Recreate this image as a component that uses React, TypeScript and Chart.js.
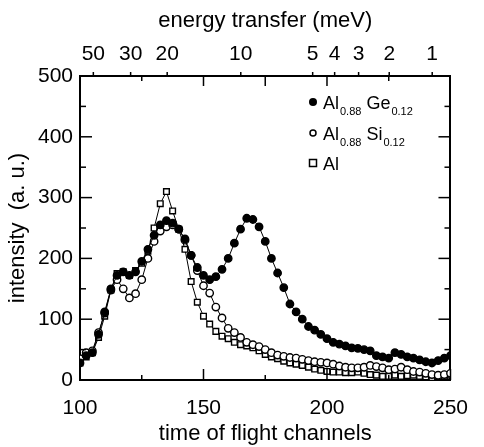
import React, { useEffect, useRef } from 'react';
import { Chart, registerables } from 'chart.js';

Chart.register(...registerables);

// time-of-flight channels of the measured points
const channels = [
  100, 102.5, 105, 107.5, 110, 112.5, 115, 117.5, 120, 122.5,
  125, 127.5, 130, 132.5, 135, 137.5, 140, 142.5, 145, 147.5,
  150, 152.5, 155, 157.5, 160, 162.5, 165, 167.5, 170, 172.5,
  175, 177.5, 180, 182.5, 185, 187.5, 190, 192.5, 195, 197.5,
  200, 202.5, 205, 207.5, 210, 212.5, 215, 217.5, 220, 222.5,
  225, 227.5, 230, 232.5, 235, 237.5, 240, 242.5, 245, 247.5, 250,
];

// Al0.88Ge0.12 (filled circles)
const geValues = [
  28, 40, 45, 75, 112, 150, 172, 178, 172, 178,
  195, 215, 238, 255, 262, 258, 248, 232, 205, 185,
  172, 165, 170, 182, 200, 225, 248, 266, 264, 252,
  228, 200, 176, 152, 125, 112, 100, 88, 82, 75,
  68, 62, 59, 56, 53, 52, 50, 48, 40, 38,
  36, 45, 42, 38, 36, 33, 30, 28, 32, 36, 40,
];

// Al0.88Si0.12 (open circles)
const siValues = [
  35, 45, 48, 78, 110, 148, 165, 150, 135, 142,
  165, 200, 228, 245, 252, 255, 248, 230, 205, 180,
  155, 143, 120, 102, 85, 78, 70, 62, 58, 55,
  50, 45, 41, 39, 37, 36, 34, 32, 30, 29,
  28, 26, 23, 21, 20, 20, 21, 24, 22, 20,
  17, 18, 21, 17, 14, 13, 11, 9, 8, 9, 11,
];

// Al (open squares)
const alValues = [
  28, 38, 45, 70, 105, 148, 175, 178, 172, 180,
  192, 212, 250, 290, 310, 278, 248, 215, 162, 128,
  105, 92, 80, 72, 68, 62, 58, 56, 53, 48,
  42, 38, 35, 31, 28, 26, 24, 21, 18, 16,
  14, 13, 13, 12, 12, 13, 11, 9, 8, 6,
  6, 8, 6, 7, 8, 6, 5, 4, 5, 6, 8,
];

const xTicks = [100, 150, 200, 250];
const xMinorTicks = [125, 175, 225];
const yTicks = [0, 100, 200, 300, 400, 500];
const yMinorTicks = [50, 150, 250, 350, 450];
const topMajorTicks = [150, 175, 200];
const topMinorTicks = [125, 225];

// energy transfer labels (meV) and the TOF channel where each sits
const energyLabels = ['50', '30', '20', '10', '5', '4', '3', '2', '1'];
const energyChannels = [105.4, 120.5, 135.3, 165.1, 194.2, 203.1, 212.8, 225.2, 242.6];

// legend: [main, subscript, main, subscript]
const legendParts = [
  ['Al', '0.88', 'Ge', '0.12'],
  ['Al', '0.88', 'Si', '0.12'],
  ['Al'],
];
const legendStyles = ['circleFilled', 'circleOpen', 'rectOpen'];

const FONT = '"Liberation Sans", Arial, Helvetica, sans-serif';

const frameTicks = {
  id: 'frameTicks',
  afterDraw(chart: any) {
    const { ctx, chartArea } = chart;
    const { left, right, top, bottom } = chartArea;
    const xs = chart.scales.x;
    const ys = chart.scales.y;
    ctx.save();
    ctx.strokeStyle = '#000';
    ctx.lineWidth = 1.5;
    const seg = (x1: number, y1: number, x2: number, y2: number) => {
      ctx.beginPath();
      ctx.moveTo(x1, y1);
      ctx.lineTo(x2, y2);
      ctx.stroke();
    };
    xTicks.forEach((v) => { const p = xs.getPixelForValue(v); seg(p, bottom, p, bottom - 11); });
    xMinorTicks.forEach((v) => { const p = xs.getPixelForValue(v); seg(p, bottom, p, bottom - 5); });
    topMajorTicks.forEach((v) => { const p = xs.getPixelForValue(v); seg(p, top, p, top + 10); });
    topMinorTicks.forEach((v) => { const p = xs.getPixelForValue(v); seg(p, top, p, top + 5); });
    energyChannels.forEach((v) => { const p = xs.getPixelForValue(v); seg(p, top, p, top - 4); });
    yTicks.forEach((v) => {
      const p = ys.getPixelForValue(v);
      seg(left, p, left + 12, p);
      seg(right, p, right - 12, p);
    });
    yMinorTicks.forEach((v) => {
      const p = ys.getPixelForValue(v);
      seg(left, p, left + 6, p);
      seg(right, p, right - 6, p);
    });
    ctx.restore();
  },
};

const drawMarker = (ctx: any, style: string, x: number, y: number) => {
  ctx.save();
  ctx.strokeStyle = '#000';
  ctx.lineWidth = 1.5;
  ctx.beginPath();
  if (style === 'rectOpen') {
    ctx.rect(x - 3.5, y - 3.5, 7, 7);
    ctx.fillStyle = '#fff';
    ctx.fill();
    ctx.stroke();
  } else if (style === 'circleOpen') {
    ctx.arc(x, y, 3, 0, Math.PI * 2);
    ctx.fillStyle = '#fff';
    ctx.fill();
    ctx.stroke();
  } else {
    ctx.arc(x, y, 4, 0, Math.PI * 2);
    ctx.fillStyle = '#000';
    ctx.fill();
  }
  ctx.restore();
};

const customLegend = {
  id: 'customLegend',
  afterDraw(chart: any) {
    const { ctx } = chart;
    const mainFont = `18px ${FONT}`;
    const subFont = `11px ${FONT}`;
    const x0 = 313;
    const ys = [102, 133, 163];
    ctx.save();
    ctx.fillStyle = '#000';
    ctx.textBaseline = 'alphabetic';
    ctx.textAlign = 'left';
    legendParts.forEach((parts, i) => {
      const y = ys[i];
      drawMarker(ctx, legendStyles[i], x0, y);
      let x = x0 + 10;
      parts.forEach((txt, j) => {
        if (j % 2 === 0) {
          ctx.font = mainFont;
          ctx.fillText(txt, x, y + 7);
          x += ctx.measureText(txt).width + 1;
        } else {
          ctx.font = subFont;
          ctx.fillText(txt, x, y + 13);
          x += ctx.measureText(txt).width + 5;
        }
      });
    });
    ctx.restore();
  },
};

export default function App() {
  const canvasRef = useRef<HTMLCanvasElement | null>(null);

  useEffect(() => {
    const canvas = canvasRef.current;
    if (!canvas) return;
    const mk = (vals: number[]) => channels.map((c, i) => ({ x: c, y: vals[i] }));
    const base = {
      borderColor: '#000',
      borderWidth: 1,
      pointBorderColor: '#000',
      pointBorderWidth: 1.4,
      tension: 0,
      xAxisID: 'x',
      yAxisID: 'y',
    };
    const axisFont = { family: FONT, size: 21 };
    const titleFont = { family: FONT, size: 22 };
    const chart = new Chart(canvas, {
      type: 'line',
      data: {
        datasets: [
          { ...base, label: 'Al0.88Ge0.12', data: mk(geValues), pointStyle: 'circle', pointRadius: 3.7, pointBackgroundColor: '#000' },
          { ...base, label: 'Al0.88Si0.12', data: mk(siValues), pointStyle: 'circle', pointRadius: 3.7, pointBackgroundColor: '#fff' },
          { ...base, label: 'Al', data: mk(alValues), pointStyle: 'rect', pointRadius: 4, pointBackgroundColor: '#fff' },
        ],
      },
      options: {
        animation: false,
        responsive: false,
        layout: { padding: 0 },
        plugins: { legend: { display: false }, tooltip: { enabled: false } },
        scales: {
          x: {
            type: 'linear',
            position: 'bottom',
            min: 100,
            max: 250,
            afterBuildTicks: (s: any) => { s.ticks = xTicks.map((v) => ({ value: v })); },
            afterFit: (s: any) => { s.height = 67; },
            grid: { display: false, drawTicks: false },
            border: { display: true, color: '#000', width: 2 },
            ticks: { color: '#000', font: axisFont, padding: 16, maxRotation: 0, autoSkip: false },
            title: { display: true, text: 'time of flight channels', color: '#000', font: titleFont, padding: { top: 0, bottom: 0 } },
          },
          x2: {
            type: 'linear',
            position: 'top',
            min: 100,
            max: 250,
            afterBuildTicks: (s: any) => { s.ticks = energyChannels.map((v) => ({ value: v })); },
            afterFit: (s: any) => { s.height = 76; },
            grid: { display: false, drawTicks: false },
            border: { display: true, color: '#000', width: 2 },
            ticks: {
              color: '#000',
              font: axisFont,
              padding: 9,
              maxRotation: 0,
              autoSkip: false,
              callback: (v: any) => {
                const idx = energyChannels.indexOf(Number(v));
                return idx >= 0 ? energyLabels[idx] : '';
              },
            },
            title: { display: true, text: 'energy transfer (meV)', color: '#000', font: titleFont, padding: { top: 8, bottom: 0 } },
          },
          y: {
            type: 'linear',
            position: 'left',
            min: 0,
            max: 500,
            afterBuildTicks: (s: any) => { s.ticks = yTicks.map((v) => ({ value: v })); },
            afterFit: (s: any) => { s.width = 80; },
            grid: { display: false, drawTicks: false },
            border: { display: true, color: '#000', width: 2 },
            ticks: { color: '#000', font: axisFont, padding: 7 },
            title: { display: true, text: 'intensity  (a. u.)', color: '#000', font: titleFont, padding: { top: 5, bottom: 0 } },
          },
          y2: {
            type: 'linear',
            position: 'right',
            min: 0,
            max: 500,
            afterFit: (s: any) => { s.width = 17; },
            grid: { display: false, drawTicks: false },
            border: { display: true, color: '#000', width: 2 },
            ticks: { display: false },
          },
        },
      } as any,
      plugins: [frameTicks, customLegend],
    });
    return () => chart.destroy();
  }, []);

  return (
    <div style={{ position: 'fixed', left: 0, top: 0, width: 484, height: 447, background: '#fff' }}>
      <canvas ref={canvasRef} width={484} height={447} style={{ display: 'block' }} />
    </div>
  );
}
